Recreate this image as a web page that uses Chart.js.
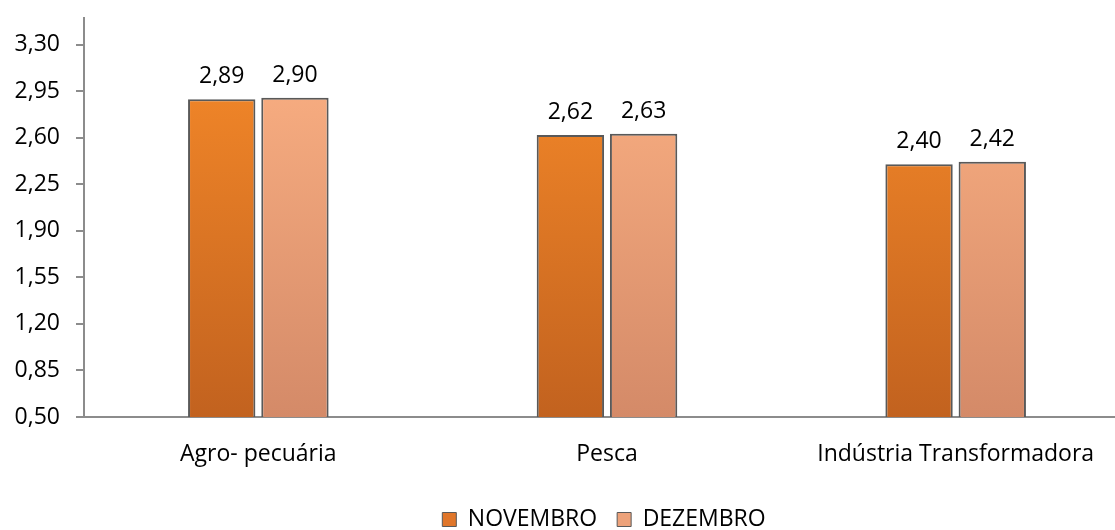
<!DOCTYPE html>
<html>
<head>
<meta charset="utf-8">
<script src="https://cdn.jsdelivr.net/npm/chart.js@4.4.1/dist/chart.umd.min.js"></script>
<style>
  html, body { margin: 0; padding: 0; background: #fff; overflow: hidden; }
  #wrap { width: 1115px; height: 530px; overflow: hidden; }
  #box { width: 1208px; height: 541px; }
</style>
</head>
<body>
<div id="wrap"><div id="box"><canvas id="myChart"></canvas></div></div>
<script>
// data
const categories = ['Agro- pecuária', 'Pesca', 'Indústria Transformadora'];
const novembro = [2.89, 2.62, 2.40];
const dezembro = [2.90, 2.63, 2.42];
const yTicks = [0.50, 0.85, 1.20, 1.55, 1.90, 2.25, 2.60, 2.95, 3.30];

const fmt = v => v.toFixed(2).replace('.', ',');
const FONT = '"Open Sans", Lato, sans-serif';
const SIZE = 23;

// vertical gradient for the bars, built against the chart area
function barFill(top, bottom) {
  return (ctx) => {
    const { chart } = ctx;
    const area = chart.chartArea;
    if (!area) return top;
    const g = chart.ctx.createLinearGradient(0, area.top, 0, area.bottom);
    g.addColorStop(0, top);
    g.addColorStop(1, bottom);
    return g;
  };
}

// value labels above each bar
const valueLabels = {
  id: 'valueLabels',
  afterDatasetsDraw(chart) {
    const c = chart.ctx;
    c.save();
    c.font = SIZE + 'px ' + FONT;
    c.fillStyle = '#000';
    c.textAlign = 'center';
    c.textBaseline = 'bottom';
    chart.data.datasets.forEach((ds, i) => {
      chart.getDatasetMeta(i).data.forEach((bar, j) => {
        c.fillText(fmt(ds.data[j]), bar.x, bar.y - 11);
      });
    });
    c.restore();
  }
};

Chart.defaults.font.family = FONT;
Chart.defaults.color = '#000';

new Chart(document.getElementById('myChart').getContext('2d'), {
  type: 'bar',
  data: {
    labels: categories,
    datasets: [
      {
        label: 'NOVEMBRO',
        data: novembro,
        backgroundColor: barFill('#f98c2a', '#c2621f'),
        legendColor: '#e0762a',
        borderColor: '#595959',
        borderWidth: 2,
        borderSkipped: false,
        categoryPercentage: 0.42,
        barPercentage: 0.92,
      },
      {
        label: 'DEZEMBRO',
        data: dezembro,
        backgroundColor: barFill('#feb385', '#d48a68'),
        legendColor: '#eda27a',
        borderColor: '#595959',
        borderWidth: 2,
        borderSkipped: false,
        categoryPercentage: 0.42,
        barPercentage: 0.92,
      },
    ],
  },
  options: {
    responsive: true,
    maintainAspectRatio: false,
    animation: false,
    layout: { padding: { left: 0, right: 0, top: 18, bottom: 0 } },
    scales: {
      x: {
        grid: { drawOnChartArea: false, drawTicks: false },
        border: { display: true, color: '#8c8c8c', width: 2 },
        ticks: { font: { size: SIZE }, padding: 24, maxRotation: 0 },
        afterFit: (scale) => {
          scale.height = 71;
          scale.paddingLeft = 0;
          scale.paddingRight = 0;
        },
      },
      y: {
        min: 0.5,
        max: 3.5,
        grid: { drawOnChartArea: false, drawTicks: true, tickLength: 8, color: '#8c8c8c', lineWidth: 2 },
        border: { display: true, color: '#8c8c8c', width: 2 },
        ticks: { stepSize: 0.35, padding: 16, font: { size: SIZE }, callback: (v) => fmt(v) },
        afterBuildTicks: (scale) => {
          scale.ticks = yTicks.map(v => ({ value: v }));
        },
        afterFit: (scale) => {
          scale.width = 84;
          scale.paddingTop = 0;
          scale.paddingBottom = 0;
        },
      },
      // empty spacer on the right; the plot runs past the picture's edge
      y2: {
        position: 'right',
        min: 0.5,
        max: 3.5,
        grid: { display: false },
        border: { display: false },
        ticks: { display: false },
        afterFit: (scale) => {
          scale.width = 78;
          scale.paddingTop = 0;
          scale.paddingBottom = 0;
        },
      },
    },
    plugins: {
      legend: {
        position: 'bottom',
        labels: {
          font: { size: SIZE },
          boxWidth: 14,
          boxHeight: 14,
          padding: 20,
          generateLabels: (chart) => chart.data.datasets.map((ds, i) => ({
            text: ds.label,
            fillStyle: ds.legendColor,
            strokeStyle: '#595959',
            lineWidth: 1,
            datasetIndex: i,
            hidden: false,
          })),
        },
      },
      tooltip: { enabled: false },
    },
  },
  plugins: [valueLabels],
});
</script>
</body>
</html>
